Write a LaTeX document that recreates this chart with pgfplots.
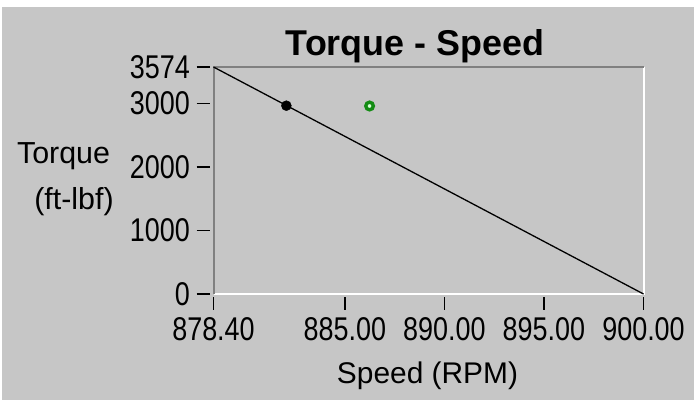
\documentclass[border=0pt]{standalone}
\usepackage{pgfplots}
\pgfplotsset{compat=1.18}
\usepackage{fontspec}
\setmainfont{Liberation Sans}
\newfontfamily\tickfont[FakeStretch=0.82]{Liberation Sans}
\definecolor{bg}{RGB}{198,198,198}
\definecolor{framegray}{RGB}{128,128,128}
\definecolor{ptgreen}{RGB}{20,140,20}
\begin{document}
\begin{tikzpicture}[x=1bp,y=1bp]
\fill[white] (0,0) rectangle (694,401);
\fill[bg] (2,1) rectangle (694,394);
\begin{axis}[at={(213.5bp,107bp)}, anchor=south west, scale only axis,
 width=430bp, height=227bp,
 xmin=878.4, xmax=900, ymin=0, ymax=3574,
 axis line style={draw=none},
 xtick pos=bottom, ytick pos=left,
 xtick={878.4,885,890,895,900},
 xticklabels={878.40,885.00,890.00,895.00,900.00},
 ytick={0,1000,2000,3000,3574},
 yticklabels={0,1000,2000,3000,3574},
 tick align=outside, major tick length=13bp,
 tick style={black, line width=1.8bp},
 xtick style={yshift=-2.5bp}, ytick style={xshift=-4bp},
 ticklabel style={font=\tickfont\fontsize{33}{33}\selectfont, inner sep=0pt},
 xticklabel style={anchor=north, yshift=-10bp},
 yticklabel style={anchor=east, xshift=-10.5bp},
 clip=false,
]
\draw[white, line width=2bp] (rel axis cs:0,0) -- (rel axis cs:1,0) -- (rel axis cs:1,1);
\draw[framegray, line width=2bp] (rel axis cs:0,0) -- (rel axis cs:0,1) -- (rel axis cs:1,1);
\addplot[black, line width=1.3bp] coordinates {(878.4,3574) (900,0)};
\addplot[only marks, mark=*, mark size=5bp, black] coordinates {(882.06,2965)};
\addplot[only marks, mark=*, mark size=3.8bp, mark options={draw=ptgreen, fill=green!15!white, line width=3.4bp}] coordinates {(886.24,2960)};
\end{axis}
\node[anchor=base, font=\bfseries\fontsize{36}{36}\selectfont] at (415,346) {Torque - Speed};
\node[anchor=base, font=\fontsize{30.5}{30.5}\selectfont, inner sep=0pt] at (63.5,238) {Torque};
\node[anchor=base, font=\fontsize{30.5}{30.5}\selectfont, inner sep=0pt] at (74,192) {(ft-lbf)};
\node[anchor=base, font=\fontsize{30}{30}\selectfont, inner sep=0pt] at (427.5,18) {Speed (RPM)};
\pgfresetboundingbox
\path (0,0) rectangle (694,401);
\end{tikzpicture}
\end{document}
